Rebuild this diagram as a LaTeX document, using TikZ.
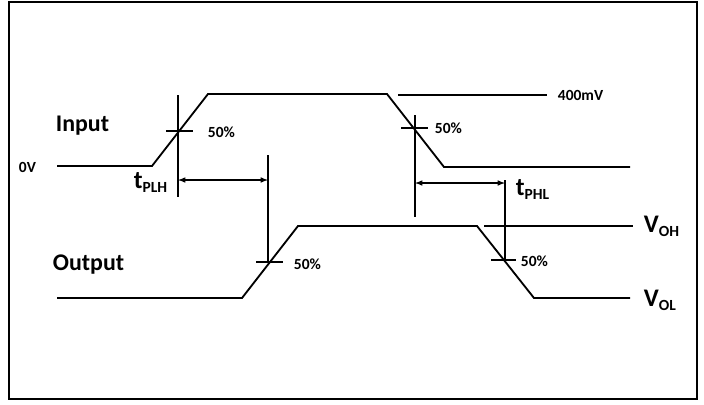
\documentclass[tikz,border=0pt]{standalone}
\usepackage{fontspec}
\setmainfont{Carlito}
\newcommand\sublbl[1]{\raisebox{-3.5pt}{\fontsize{11}{11}\selectfont #1}}
\begin{document}
\begin{tikzpicture}[x=0.025cm,y=-0.025cm,line width=1.3pt,
  lbl/.style={font=\bfseries\fontsize{11}{11}\selectfont,anchor=west,inner sep=0pt},
  big/.style={font=\bfseries\fontsize{17}{17}\selectfont,anchor=west,inner sep=0pt},
  sym/.style={font=\bfseries\fontsize{18}{18}\selectfont,anchor=base west,inner sep=0pt}]
\useasboundingbox (0,0) rectangle (704,404);
\draw[line width=0.8pt] (9,2) rectangle (697,399);
% input wave
\draw (57,166) -- (152,166) -- (208,94) -- (387,94) -- (444,167) -- (630,167);
\draw (398,95) -- (547,95);
% output wave
\draw (57,298) -- (242,298) -- (298,226) -- (477,226) -- (534,298) -- (630,298);
\draw (484,226) -- (633,226);
% 50% marks
\coordinate (inUp) at (178,95);   \coordinate (inLo) at (178,197);
\coordinate (inDnUp) at (415,115); \coordinate (inDnLo) at (415,217);
\coordinate (outUp) at (268,155); \coordinate (outLo) at (268,262);
\coordinate (outDnUp) at (505,180); \coordinate (outDnLo) at (505,260);
\draw (inUp) -- (inLo);
\draw (166,131) -- (193,131);
\draw (inDnUp) -- (inDnLo);
\draw (401,128) -- (428,128);
\draw (outUp) -- (outLo);
\draw (256,262) -- (283,262);
\draw (outDnUp) -- (outDnLo);
\draw (491,260) -- (516,260);
% delays
\draw[latex-latex,line width=0.8pt] (inUp |- 0,180) -- (outUp |- 0,180);
\draw[latex-latex,line width=0.8pt] (inDnUp |- 0,183) -- (outDnUp |- 0,183);
% labels
\node[big] (input) at (55,126) {Input};
\node[big] (output) at (52,265) {Output};
\node[lbl] (zero) at (18,167) {0V};
\node[lbl] (top) at (557,95) {400mV};
\node[lbl] (p1) at (207,132) {50\%};
\node[lbl] (p2) at (434,128) {50\%};
\node[lbl] (p3) at (293,264) {50\%};
\node[lbl] (p4) at (520,261) {50\%};
\node[sym] (tplh) at (133,188) {t\sublbl{PLH}};
\node[sym] (tphl) at (515,195) {t\sublbl{PHL}};
\node[sym] (voh) at (643,232) {V\sublbl{OH}};
\node[sym] (vol) at (643,306) {V\sublbl{OL}};
\end{tikzpicture}
\end{document}
